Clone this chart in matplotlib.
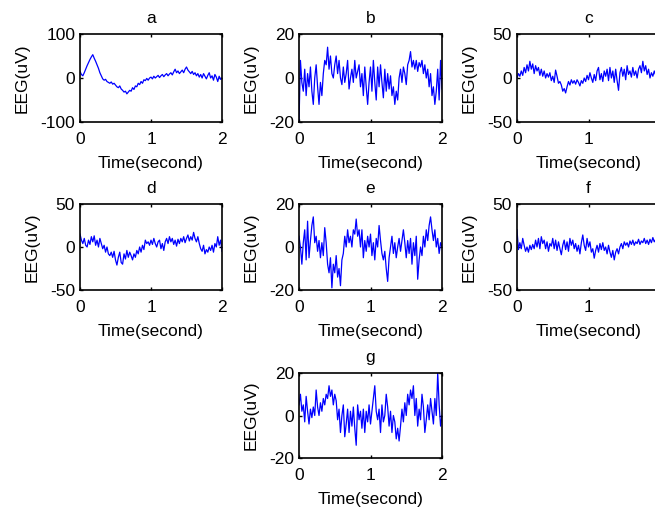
import numpy as np
import matplotlib
matplotlib.use("Agg")
import matplotlib.pyplot as plt

plt.rcParams['font.family'] = ['Liberation Sans', 'DejaVu Sans']

t = np.linspace(0, 2, 101)

sig_a = [15, 8, 5, 12, 20, 28, 35, 42, 48, 53, 45, 38, 30, 22, 12, 5, -2, -5, -3, -8,
         -10, -12, -9, -14, -12, -16, -20, -22, -18, -25, -28, -32, -30, -36, -32, -28, -30, -22, -26, -18,
         -20, -12, -15, -8, -12, -4, -6, -1, -5, 0, 2, -2, 4, 0, 3, 6, 1, 5, 8, 3,
         7, 10, 5, 9, 12, 7, 14, 20, 12, 16, 10, 14, 18, 12, 20, 25, 18, 14, 10, 15,
         8, 12, 5, 10, 2, 8, 0, 10, 4, -2, 6, 12, 0, 5, -5, 8, 2, -8, 4, -3, 0]
sig_b = [-20, 8, -2, -6, 4, -8, 2, -4, 5, -6, -12, 0, 6, -4, -12, -2, -8, 2, 8, 6,
         14, 4, 10, 2, 0, 6, 10, 2, 8, 0, -3, 5, -2, 2, 8, -5, 0, 4, -2, 8,
         0, 3, 6, -4, 2, -8, 5, -4, -12, -2, 5, -6, 8, -2, -10, 5, -4, 6, -2, -9,
         4, -6, 2, -5, 1, -8, -4, -12, -6, -10, 0, 4, -2, 5, 2, -3, 6, 8, 12, 5,
         8, 4, 8, 3, 7, 5, 8, 2, 6, 0, 4, -4, 2, -8, -4, -12, -6, 4, -10, 8, -5]
sig_c = [0, 5, 2, 8, 3, 12, 6, 15, 8, 19, 10, 16, 5, 14, 8, 12, 3, 10, 2, 8,
         0, 5, 1, 6, -3, 2, -5, 9, 2, -6, -4, -8, -15, -12, -17, -10, -4, -8, -2, -6,
         -3, -7, -2, -5, -9, -3, -6, 0, -4, 3, -2, 6, 0, -5, 4, -3, 8, 12, -2, 5,
         -4, 8, 2, 10, -3, 12, 0, 8, -5, 10, -3, -14, 6, 12, 2, 10, -2, 14, 4, 8,
         1, 12, 3, 8, 0, 10, 14, 6, 19, 8, 14, 4, 10, 0, 6, 2, 8, 3, 6, 2, 4]
sig_d = [15, 8, 4, 10, 2, 0, 8, 3, 12, 6, 13, 2, 8, 0, 10, 4, -2, 2, -6, 0,
         -8, -10, -6, -12, -5, -15, -21, -12, -6, -18, -20, -8, -14, -4, -12, -6, -10, -15, -8, -12,
         -4, -8, 0, -6, 2, -3, 8, 4, 6, 2, 8, 3, 10, 4, 0, 6, 8, -2, 4, -4,
         6, 10, 4, 12, 6, 10, 3, 8, 1, 9, 4, 10, 6, 12, 5, 10, 14, 7, 12, 8,
         17, 10, 6, 12, 4, -2, -5, 2, -8, -3, -6, 0, -4, 2, -6, 4, 0, 12, 2, 8, -5]
sig_e = [5, 0, -8, 2, 8, -6, 12, -5, 3, 10, 14, 2, 5, -2, 3, -5, 2, -4, 9, 2,
         -8, -12, -5, -19, -8, -12, -4, -14, -10, -18, -6, -3, 5, 0, 8, 2, 5, 0, 8, 6,
         13, 5, 8, 0, 8, -5, 3, -2, 5, 0, 6, -4, 2, -6, 4, 0, 10, 3, -3, -6,
         -2, -10, -16, -5, 0, 5, -3, 2, -5, 0, 4, -2, 3, 8, 2, -5, 3, -3, 4, -8,
         2, -4, 5, -15, -6, 0, -4, 5, 0, 8, 3, 10, 14, 8, 3, 8, 0, 4, -3, 2, 0]
sig_f = [20, -3, 5, -2, 10, 2, -5, 0, -6, 2, -3, 3, -2, 8, 0, 10, -2, 12, 4, 8,
         -2, 6, -5, 4, 1, 10, -2, 8, -4, 6, -2, -9, 2, 8, -3, 6, -5, 10, 2, 8,
         -2, 4, -5, 2, -8, 5, 14, 2, -4, 10, 0, 6, -6, -2, -13, -4, 2, -6, 4, -3,
         5, -4, 0, -8, 2, -6, -12, -4, -15, -6, -2, -8, 0, 4, -2, 6, 2, 5, 0, 7,
         3, 8, 2, 6, 4, 9, 3, 7, 5, 10, 4, 8, 3, 9, 5, 11, 6, 9, 4, 8, 5]
sig_g = [5, 10, 2, 5, -3, 9, 2, -4, 3, -1, 4, 0, 12, 4, 0, 6, 2, 8, 5, 10,
         8, 14, 9, 12, 5, 10, 7, -2, 3, -8, 0, 5, -10, -4, 3, -8, 2, -5, 4, -6,
         -14, 5, -2, 2, -6, 3, -8, 2, -3, 5, -4, 2, 8, 14, 2, -2, 3, -8, 5, -3,
         0, 10, 4, -5, 2, -8, 0, -3, -11, -6, -12, -5, 3, -3, 6, 0, 10, 5, 12, 8,
         14, 0, 8, -5, 3, -2, 10, 4, -8, -2, 5, -2, 8, 2, -4, 8, 0, 20, 5, -5, 0]

titles = ['a', 'b', 'c', 'd', 'e', 'f', 'g']
signals = [sig_a, sig_b, sig_c, sig_d, sig_e, sig_f, sig_g]
ylims = [100, 20, 50, 50, 20, 50, 20]
x_labels = ['0', '1', '2']

W, H = 655, 508
fig = plt.figure(figsize=(W / 100, H / 100), dpi=100)

# pixel boxes: (left, top, width, height)
boxes = [(80, 34, 142, 88), (299, 34, 143, 88), (517, 34, 143, 88),
         (80, 204, 142, 86), (299, 204, 143, 86), (517, 204, 143, 86),
         (299, 373, 143, 85)]

FS = 12.5
for title, sig, yl, (l, tp, w, h) in zip(titles, signals, ylims, boxes):
    ax = fig.add_axes([l / W, (H - tp - h) / H, w / W, h / H])
    ax.plot(t, sig, color='#0000FF', linewidth=0.9)
    ax.set_xlim(0, 2)
    ax.set_ylim(-yl, yl)
    ax.set_xticks([0, 1, 2])
    ax.set_yticks([-yl, 0, yl])
    # the right-most tick label lies outside the figure for panels that overflow
    xl = list(x_labels) if l + w <= W else x_labels[:2] + ['']
    ax.set_xticklabels(xl)
    ax.set_yticklabels([str(-yl), '0', str(yl)])
    ax.tick_params(direction='in', length=2.5, width=1, labelsize=FS,
                   top=True, right=True, colors='black')
    ax.tick_params(axis='x', pad=7.5)
    ax.tick_params(axis='y', pad=3.5)
    for s in ax.spines.values():
        s.set_linewidth(1.2)
        s.set_color('black')
    ax.set_title(title, fontsize=FS, pad=8)
    ax.set_xlabel('Time(second)', fontsize=FS, labelpad=6)
    ax.set_ylabel('EEG(uV)', fontsize=FS, labelpad=7.5)

fig.savefig('out.png', dpi=100)
